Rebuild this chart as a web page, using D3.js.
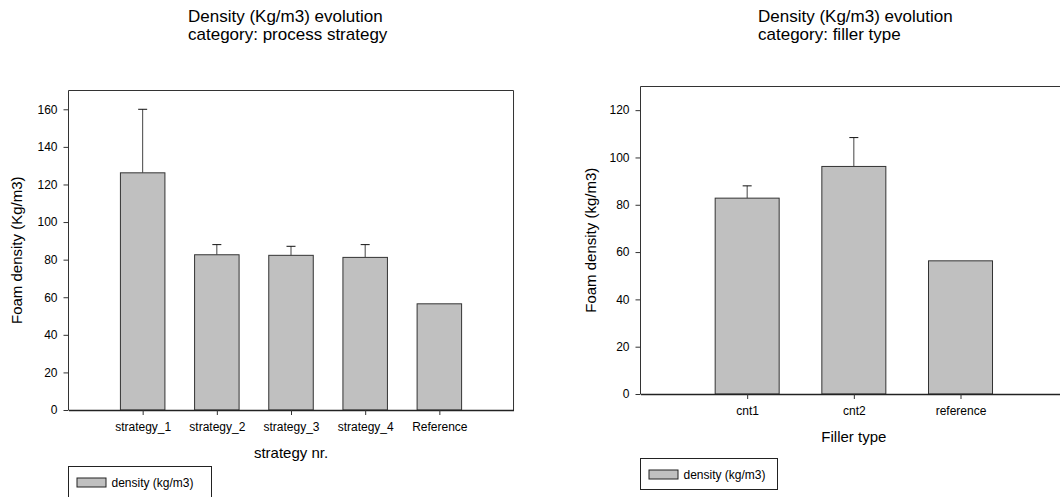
<!DOCTYPE html>
<html>
<head>
<meta charset="utf-8">
<script src="https://cdn.jsdelivr.net/npm/d3@7"></script>
<style>
  body { margin: 0; background: #fff; }
  svg { display: block; font-family: "Liberation Sans", Arial, sans-serif; }
</style>
</head>
<body>
<div id="chart"></div>
<script>
// Left panel: process strategy
const strategyCategories = ['strategy_1', 'strategy_2', 'strategy_3', 'strategy_4', 'Reference'];
const strategyDensity = [126.2, 82.6, 82.3, 81.2, 56.5];
const strategyError = [33.8, 5.4, 4.8, 6.8, 0];
const strategyTicks = [0, 20, 40, 60, 80, 100, 120, 140, 160];

// Right panel: filler type
const fillerCategories = ['cnt1', 'cnt2', 'reference'];
const fillerDensity = [82.8, 96.2, 56.3];
const fillerError = [5.2, 12.2, 0];
const fillerTicks = [0, 20, 40, 60, 80, 100, 120];

const legendLabel = 'density (kg/m3)';

class BarChart {

  constructor(_config, _data) {
    this.config = _config;
    this.data = _data;
    this.initVis();
  }

  initVis() {
    let vis = this;
    const c = vis.config;

    // x: categories sit on integer positions 1..n, with an empty slot on both sides
    vis.xScale = d3.scaleLinear()
      .domain([0, vis.data.length + 1])
      .range([c.left, c.left + c.step * (vis.data.length + 1)]);

    vis.yScale = d3.scaleLinear()
      .domain([0, c.yMax])
      .range([c.bottom, c.top]);

    vis.g = c.svg.append('g');

    // Title, two lines, left aligned
    const title = vis.g.append('text')
      .attr('x', c.titleX)
      .attr('y', 22)
      .attr('font-size', 17)
      .attr('fill', '#000');
    title.append('tspan').attr('x', c.titleX).text('Density (Kg/m3) evolution');
    title.append('tspan').attr('x', c.titleX).attr('y', 40).text(c.subtitle);

    vis.renderVis();
  }

  renderVis() {
    let vis = this;
    const c = vis.config;
    const barWidth = c.step * 0.6;

    // Bars
    vis.g.selectAll('.bar')
      .data(vis.data)
      .join('rect')
      .attr('class', 'bar')
      .attr('x', (d, i) => vis.xScale(i + 1) - barWidth / 2)
      .attr('y', d => vis.yScale(d.value))
      .attr('width', barWidth)
      .attr('height', d => vis.yScale(0) - vis.yScale(d.value))
      .attr('fill', '#c0c0c0')
      .attr('stroke', '#333')
      .attr('stroke-width', 1);

    // Upper error bars
    const errData = vis.data.map((d, i) => ({ ...d, i })).filter(d => d.err > 0);
    vis.g.selectAll('.err-line')
      .data(errData)
      .join('line')
      .attr('class', 'err-line')
      .attr('x1', d => vis.xScale(d.i + 1))
      .attr('x2', d => vis.xScale(d.i + 1))
      .attr('y1', d => vis.yScale(d.value))
      .attr('y2', d => vis.yScale(d.value + d.err))
      .attr('stroke', '#444')
      .attr('stroke-width', 1);
    vis.g.selectAll('.err-cap')
      .data(errData)
      .join('line')
      .attr('class', 'err-cap')
      .attr('x1', d => vis.xScale(d.i + 1) - 4.5)
      .attr('x2', d => vis.xScale(d.i + 1) + 4.5)
      .attr('y1', d => vis.yScale(d.value + d.err))
      .attr('y2', d => vis.yScale(d.value + d.err))
      .attr('stroke', '#111')
      .attr('stroke-width', 1);

    // Frame (left, top, right)
    const [x0, x1] = vis.xScale.range();
    vis.g.append('path')
      .attr('d', `M${x0},${c.bottom}V${c.top}H${x1}V${c.bottom}`)
      .attr('fill', 'none')
      .attr('stroke', '#333')
      .attr('stroke-width', 1);

    // Axes
    const yAxis = d3.axisLeft(vis.yScale)
      .tickValues(c.yTicks)
      .tickSize(5)
      .tickSizeOuter(0)
      .tickPadding(6);
    const yAxisG = vis.g.append('g')
      .attr('transform', `translate(${x0},0)`)
      .call(yAxis);
    yAxisG.select('.domain').remove();

    const xAxis = d3.axisBottom(vis.xScale)
      .tickValues(d3.range(1, vis.data.length + 1))
      .tickFormat(d => vis.data[d - 1].name)
      .tickSize(5)
      .tickSizeOuter(0)
      .tickPadding(7);
    const xAxisG = vis.g.append('g')
      .attr('transform', `translate(0,${c.bottom})`)
      .call(xAxis);
    xAxisG.select('.domain')
      .attr('stroke', '#222')
      .attr('stroke-width', 1.6);

    [xAxisG, yAxisG].forEach(a => {
      a.attr('font-family', null).attr('font-size', null);
      a.selectAll('.tick line').attr('stroke', '#333');
      a.selectAll('.tick text').attr('fill', '#000').attr('font-size', 12);
    });

    // Axis titles
    vis.g.append('text')
      .attr('x', (x0 + Math.min(x1, c.frameCenterLimit)) / 2)
      .attr('y', c.bottom + 48)
      .attr('text-anchor', 'middle')
      .attr('font-size', 15)
      .text(c.xTitle);
    vis.g.append('text')
      .attr('transform', `translate(${c.yTitleX},${(c.top + c.bottom) / 2}) rotate(-90)`)
      .attr('text-anchor', 'middle')
      .attr('font-size', 15)
      .text(c.yTitle);

    // Legend
    const leg = vis.g.append('g')
      .attr('transform', `translate(${c.legendX},${c.legendY})`);
    leg.append('rect')
      .attr('width', c.legendW)
      .attr('height', 31)
      .attr('fill', '#fff')
      .attr('stroke', '#222');
    leg.append('rect')
      .attr('x', 8.5)
      .attr('y', 11.5)
      .attr('width', 29)
      .attr('height', 9)
      .attr('fill', '#c0c0c0')
      .attr('stroke', '#222');
    leg.append('text')
      .attr('x', 43)
      .attr('y', 20)
      .attr('font-size', 12)
      .text(legendLabel);
  }
}

const svg = d3.select('#chart').append('svg')
  .attr('width', 1060)
  .attr('height', 497);

new BarChart({
  svg: svg,
  left: 68.5, step: 74.17, top: 90.5, bottom: 410, yMax: 170,
  yTicks: strategyTicks,
  titleX: 188, subtitle: 'category: process strategy',
  xTitle: 'strategy nr.', yTitle: 'Foam density (Kg/m3)', yTitleX: 22,
  frameCenterLimit: 9999,
  legendX: 68.5, legendY: 466.5, legendW: 143
}, strategyCategories.map((name, i) => ({ name, value: strategyDensity[i], err: strategyError[i] })));

new BarChart({
  svg: svg,
  left: 640.5, step: 106.67, top: 86.5, bottom: 394, yMax: 130,
  yTicks: fillerTicks,
  titleX: 758, subtitle: 'category: filler type',
  xTitle: 'Filler type', yTitle: 'Foam density (kg/m3)', yTitleX: 596,
  frameCenterLimit: 9999,
  legendX: 640.5, legendY: 458.5, legendW: 137
}, fillerCategories.map((name, i) => ({ name, value: fillerDensity[i], err: fillerError[i] })));
</script>
</body>
</html>
